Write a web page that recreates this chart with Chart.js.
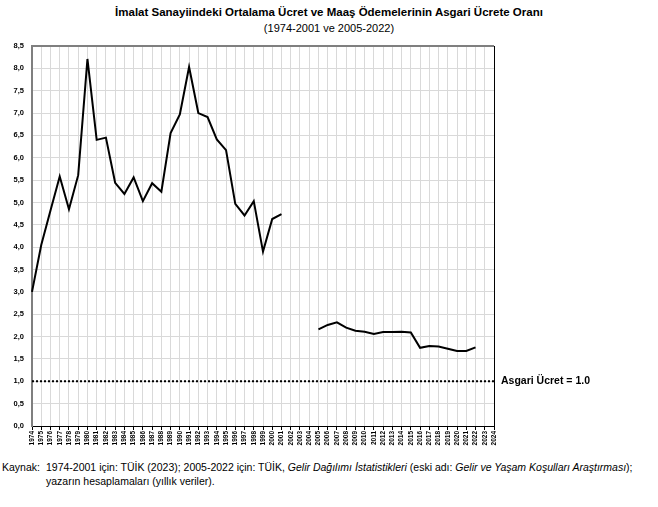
<!DOCTYPE html>
<html>
<head>
<meta charset="utf-8">
<script src="https://cdn.jsdelivr.net/npm/chart.js@4/dist/chart.umd.min.js"></script>
<style>
  body { margin: 0; background: #fff; font-family: "Liberation Sans", Arial, sans-serif; }
  #wrap { position: relative; width: 658px; height: 507px; }
  #chart { position: absolute; left: 0; top: 0; }
  .title { position: absolute; left: 0; width: 658px; text-align: center; color: #000; }
  #t1 { top: 6px; font-size: 11.5px; font-weight: bold; }
  #t2 { top: 22px; font-size: 11px; }
  #footer { position: absolute; left: 2px; top: 460px; font-size: 10.5px; line-height: 14px; color: #000; }
  #footer .lbl { display: inline-block; width: 44px; }
  #footer .ind { padding-left: 44px; }
</style>
</head>
<body>
<div id="wrap">
  <div class="title" id="t1">İmalat Sanayiindeki Ortalama Ücret ve Maaş Ödemelerinin Asgari Ücrete Oranı</div>
  <div class="title" id="t2">(1974-2001 ve 2005-2022)</div>
  <canvas id="chart" width="658" height="455"></canvas>
  <div id="footer">
    <div><span class="lbl">Kaynak:</span>1974-2001 için: TÜİK (2023); 2005-2022 için: TÜİK, <i>Gelir Dağılımı İstatistikleri</i> (eski adı: <i>Gelir ve Yaşam Koşulları Araştırması</i>);</div>
    <div class="ind">yazarın hesaplamaları (yıllık veriler).</div>
  </div>
</div>
<script>
// years on the x axis
const years = [];
for (let y = 1974; y <= 2024; y++) years.push(String(y));

// ratio of average manufacturing wage to minimum wage
const ratio1974to2001 = [3.00, 4.05, 4.82, 5.58, 4.85, 5.61, 8.21, 6.40, 6.45, 5.44,
  5.19, 5.56, 5.03, 5.43, 5.24, 6.55, 6.97, 8.03, 7.00, 6.91,
  6.41, 6.17, 4.97, 4.71, 5.03, 3.90, 4.63, 4.74];
const ratio2005to2022 = [2.16, 2.26, 2.32, 2.20, 2.13, 2.11, 2.06, 2.10, 2.10, 2.11,
  2.09, 1.75, 1.79, 1.78, 1.73, 1.68, 1.68, 1.76];

const minimumWageLevel = 1.0;
const minimumWageLabel = 'Asgari Ücret = 1.0';
const yMin = 0, yMax = 8.5, yStep = 0.5;

// line data with gaps for missing years
const ratioData = years.map(y => {
    const yr = Number(y);
    if (yr >= 1974 && yr <= 2001) return ratio1974to2001[yr - 1974];
    if (yr >= 2005 && yr <= 2022) return ratio2005to2022[yr - 2005];
    return null;
});
const minWageData = years.map(() => minimumWageLevel);

const refLabel = {
    id: 'refLabel',
    afterDatasetsDraw(chart) {
        const { ctx, chartArea, scales } = chart;
        const y = scales.y.getPixelForValue(minimumWageLevel);
        ctx.save();
        ctx.font = 'bold 10.5px "Liberation Sans", Arial, sans-serif';
        ctx.fillStyle = '#000';
        ctx.textBaseline = 'middle';
        ctx.fillText(minimumWageLabel, chartArea.right + 7, y);
        ctx.restore();
    }
};

const ctx = document.getElementById('chart').getContext('2d');
new Chart(ctx, {
    type: 'line',
    data: {
        labels: years,
        datasets: [
            {
                data: ratioData,
                borderColor: '#000',
                borderWidth: 2,
                pointRadius: 0,
                tension: 0,
                spanGaps: false
            },
            {
                data: minWageData,
                borderColor: '#000',
                borderWidth: 2,
                borderDash: [2, 2],
                pointRadius: 0
            }
        ]
    },
    plugins: [refLabel],
    options: {
        responsive: false,
        animation: false,
        layout: { padding: { top: 46, right: 164, left: 0, bottom: 0 } },
        plugins: {
            legend: { display: false },
            tooltip: { enabled: false }
        },
        scales: {
            x: {
                offset: false,
                afterFit: (scale) => { scale.height = 29; },
                border: { color: '#000', width: 1 },
                grid: {
                    color: (c) => c.index === years.length - 1 ? '#000' : '#d9d9d9',
                    tickColor: '#000',
                    tickLength: 4
                },
                ticks: {
                    autoSkip: false,
                    minRotation: 90,
                    maxRotation: 90,
                    padding: 1,
                    color: '#000',
                    font: { size: 6.5, weight: 'bold', family: '"Liberation Sans", Arial, sans-serif' }
                }
            },
            y: {
                min: yMin,
                max: yMax,
                afterFit: (scale) => { scale.width = 32; },
                border: { color: '#7f7f7f', width: 2 },
                grid: {
                    color: (c) => c.tick && c.tick.value === yMax ? '#7f7f7f' : '#d9d9d9',
                    lineWidth: (c) => c.tick && c.tick.value === yMax ? 2 : 1,
                    drawTicks: false
                },
                ticks: {
                    stepSize: yStep,
                    padding: 8,
                    color: '#000',
                    font: { size: 7.5, weight: 'bold', family: '"Liberation Sans", Arial, sans-serif' },
                    callback: (v) => v.toFixed(1).replace('.', ',')
                }
            }
        }
    }
});
</script>
</body>
</html>
